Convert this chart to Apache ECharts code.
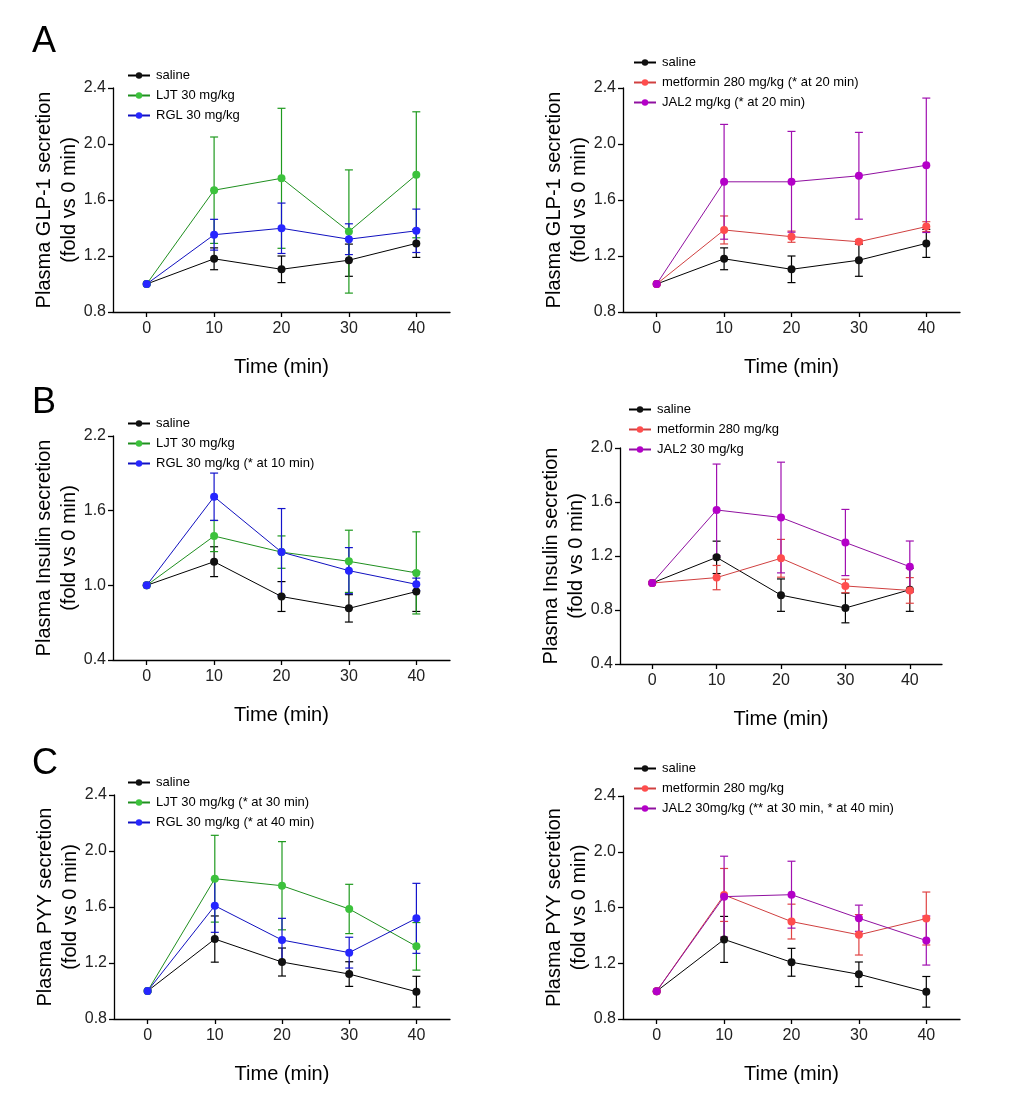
<!DOCTYPE html>
<html><head><meta charset="utf-8">
<script src="https://cdn.jsdelivr.net/npm/echarts@6/dist/echarts.min.js"></script>
<style>html,body{margin:0;padding:0;background:#fff}#c{width:1032px;height:1110px}</style>
</head><body><div id="c"></div>
<script>
const time = [0, 10, 20, 30, 40];
// A: GLP-1
const glpSaline = [1.00, 1.18, 1.105, 1.17, 1.29];
const glpSalineErr = [0, 0.078, 0.095, 0.115, 0.10];
const glpLJT = [1.00, 1.67, 1.755, 1.375, 1.78];
const glpLJTErr = [0, 0.38, 0.50, 0.44, 0.45];
const glpRGL = [1.00, 1.352, 1.398, 1.32, 1.38];
const glpRGLErr = [0, 0.11, 0.18, 0.11, 0.155];
const glpMet = [1.00, 1.386, 1.338, 1.302, 1.41];
const glpMetErr = [0, 0.10, 0.04, 0.012, 0.035];
const glpJAL = [1.00, 1.73, 1.73, 1.773, 1.848];
const glpJALErr = [0, 0.41, 0.36, 0.31, 0.48];
// B: Insulin
const insSaline = [1.00, 1.19, 0.91, 0.815, 0.95];
const insSalineErr = [0, 0.12, 0.12, 0.11, 0.16];
const insLJT = [1.00, 1.396, 1.267, 1.193, 1.10];
const insLJTErr = [0, 0.125, 0.13, 0.25, 0.33];
const insRGL = [1.00, 1.712, 1.267, 1.118, 1.008];
const insRGLErr = [0, 0.19, 0.35, 0.185, 0.05];
const insMet = [1.00, 1.04, 1.183, 0.978, 0.945];
const insMetErr = [0, 0.09, 0.14, 0.05, 0.095];
const insJAL = [1.00, 1.541, 1.485, 1.30, 1.121];
const insJALErr = [0, 0.34, 0.41, 0.245, 0.19];
// C: PYY
const pyySaline = [1.00, 1.371, 1.207, 1.121, 0.995];
const pyySalineErr = [0, 0.165, 0.10, 0.088, 0.11];
const pyyLJT = [1.00, 1.802, 1.752, 1.586, 1.319];
const pyyLJTErr = [0, 0.31, 0.315, 0.176, 0.17];
const pyyRGL = [1.00, 1.609, 1.364, 1.274, 1.519];
const pyyRGLErr = [0, 0.19, 0.155, 0.11, 0.25];
const pyyMet = [1.00, 1.69, 1.499, 1.404, 1.521];
const pyyMetErr = [0, 0.19, 0.125, 0.145, 0.19];
const pyyJAL = [1.00, 1.678, 1.692, 1.523, 1.363];
const pyyJALErr = [0, 0.29, 0.24, 0.094, 0.176];

const xTicks = [0, 10, 20, 30, 40];
const yTicksA = [0.8, 1.2, 1.6, 2.0, 2.4];
const yTicksBL = [0.4, 1.0, 1.6, 2.2];
const yTicksBR = [0.4, 0.8, 1.2, 1.6, 2.0];
const yTicksC = [0.8, 1.2, 1.6, 2.0, 2.4];

const FONT = 'Liberation Sans, Arial, sans-serif';
const COL = {
  black: {m: '#111111', l: '#000000', e: '#000000'},
  green: {m: '#3cc23c', l: '#1f8f1f', e: '#1f9a1f'},
  blue:  {m: '#2626ff', l: '#1010c0', e: '#1414cc'},
  red:   {m: '#ff4d4d', l: '#d04040', e: '#e04444'},
  mag:   {m: '#b400c8', l: '#9010a0', e: '#a010b0'}
};

const panels = [
  {grid: {left: 113, top: 88, width: 337, height: 224}, yMin: 0.8, yMax: 2.4, yTicks: yTicksA,
   yName: 'Plasma GLP-1 secretion\n(fold vs 0 min)', legend: {left: 127, top: 69},
   series: [['saline', glpSaline, glpSalineErr, 'black'], ['LJT 30 mg/kg', glpLJT, glpLJTErr, 'green'], ['RGL 30 mg/kg', glpRGL, glpRGLErr, 'blue']]},
  {grid: {left: 623, top: 88, width: 337, height: 224}, yMin: 0.8, yMax: 2.4, yTicks: yTicksA,
   yName: 'Plasma GLP-1 secretion\n(fold vs 0 min)', legend: {left: 633, top: 56},
   series: [['saline', glpSaline, glpSalineErr, 'black'], ['metformin 280 mg/kg (* at 20 min)', glpMet, glpMetErr, 'red'], ['JAL2 mg/kg (* at 20 min)', glpJAL, glpJALErr, 'mag']]},
  {grid: {left: 113, top: 436, width: 337, height: 224}, yMin: 0.4, yMax: 2.2, yTicks: yTicksBL,
   yName: 'Plasma Insulin secretion\n(fold vs 0 min)', legend: {left: 127, top: 417},
   series: [['saline', insSaline, insSalineErr, 'black'], ['LJT 30 mg/kg', insLJT, insLJTErr, 'green'], ['RGL 30 mg/kg (* at 10 min)', insRGL, insRGLErr, 'blue']]},
  {grid: {left: 620, top: 448, width: 322, height: 216}, yMin: 0.4, yMax: 2.0, yTicks: yTicksBR,
   yName: 'Plasma Insulin secretion\n(fold vs 0 min)', legend: {left: 628, top: 403},
   series: [['saline', insSaline, insSalineErr, 'black'], ['metformin 280 mg/kg', insMet, insMetErr, 'red'], ['JAL2 30 mg/kg', insJAL, insJALErr, 'mag']]},
  {grid: {left: 114, top: 795, width: 336, height: 224}, yMin: 0.8, yMax: 2.4, yTicks: yTicksC,
   yName: 'Plasma PYY secretion\n(fold vs 0 min)', legend: {left: 127, top: 776},
   series: [['saline', pyySaline, pyySalineErr, 'black'], ['LJT 30 mg/kg (* at 30 min)', pyyLJT, pyyLJTErr, 'green'], ['RGL 30 mg/kg (* at 40 min)', pyyRGL, pyyRGLErr, 'blue']]},
  {grid: {left: 623, top: 796, width: 337, height: 223}, yMin: 0.8, yMax: 2.4, yTicks: yTicksC,
   yName: 'Plasma PYY secretion\n(fold vs 0 min)', legend: {left: 633, top: 762},
   series: [['saline', pyySaline, pyySalineErr, 'black'], ['metformin 280 mg/kg', pyyMet, pyyMetErr, 'red'], ['JAL2 30mg/kg (** at 30 min, * at 40 min)', pyyJAL, pyyJALErr, 'mag']]}
];

const grids = [], xAxes = [], yAxes = [], legends = [], series = [];
const axisLineStyle = {color: '#000', width: 1.3};

panels.forEach((p, i) => {
  grids.push(Object.assign({containLabel: false}, p.grid));
  xAxes.push({
    type: 'value', gridIndex: i, min: -5, max: 45,
    name: 'Time (min)', nameLocation: 'middle', nameGap: 45, nameMoveOverlap: false,
    nameTextStyle: {fontFamily: FONT, fontSize: 20, color: '#000'},
    axisLine: {onZero: false, lineStyle: axisLineStyle},
    axisTick: {length: 5, lineStyle: axisLineStyle, customValues: xTicks},
    axisLabel: {fontFamily: FONT, fontSize: 16, color: '#222', margin: 9, customValues: xTicks},
    splitLine: {show: false}
  });
  yAxes.push({
    type: 'value', gridIndex: i, min: p.yMin, max: p.yMax,
    name: p.yName, nameLocation: 'middle', nameRotate: 90, nameGap: 31, nameMoveOverlap: false,
    nameTextStyle: {fontFamily: FONT, fontSize: 20, lineHeight: 25, color: '#000'},
    axisLine: {show: true, onZero: false, lineStyle: axisLineStyle},
    axisTick: {show: true, length: 5, lineStyle: axisLineStyle, customValues: p.yTicks},
    axisLabel: {fontFamily: FONT, fontSize: 16, color: '#222', margin: 7, customValues: p.yTicks,
      formatter: v => Number(v).toFixed(1)},
    splitLine: {show: false}
  });
  legends.push({
    left: p.legend.left, top: p.legend.top, orient: 'vertical', padding: 0,
    itemWidth: 22, itemHeight: 8, itemGap: 7,
    textStyle: {fontFamily: FONT, fontSize: 13, color: '#000', padding: [0, 0, 0, 1]},
    data: p.series.map(s => s[0])
  });
  p.series.forEach(s => {
    const c = COL[s[3]];
    const vals = s[1], errs = s[2];
    series.push({
      type: 'custom', name: s[0] + ' err', xAxisIndex: i, yAxisIndex: i, z: 1,
      data: time.map((t, k) => [t, vals[k], errs[k]]),
      renderItem: function (params, api) {
        const x = api.value(0), y = api.value(1), e = api.value(2);
        if (!e) return null;
        const top = api.coord([x, y + e]);
        const bot = api.coord([x, y - e]);
        const w = 4;
        const st = {stroke: c.e, lineWidth: 1.2};
        return {type: 'group', children: [
          {type: 'line', shape: {x1: top[0], y1: top[1], x2: bot[0], y2: bot[1]}, style: st},
          {type: 'line', shape: {x1: top[0] - w, y1: top[1], x2: top[0] + w, y2: top[1]}, style: st},
          {type: 'line', shape: {x1: bot[0] - w, y1: bot[1], x2: bot[0] + w, y2: bot[1]}, style: st}
        ]};
      },
      silent: true
    });
    series.push({
      type: 'line', name: s[0], xAxisIndex: i, yAxisIndex: i, z: 3,
      data: time.map((t, k) => [t, vals[k]]),
      symbol: 'circle', symbolSize: 8,
      itemStyle: {color: c.m},
      lineStyle: {color: c.l, width: 1},
      animation: false
    });
  });
});

const letters = [['A', 32, 24], ['B', 32, 385], ['C', 32, 746]].map(l => ({
  type: 'text', left: l[1], top: l[2],
  style: {text: l[0], fontFamily: FONT, fontSize: 36, fill: '#000'}
}));

const chart = echarts.init(document.getElementById('c'), null, {renderer: 'canvas'});
chart.setOption({
  backgroundColor: '#fff',
  animation: false,
  grid: grids, xAxis: xAxes, yAxis: yAxes, legend: legends, series: series,
  graphic: letters
});
</script></body></html>
